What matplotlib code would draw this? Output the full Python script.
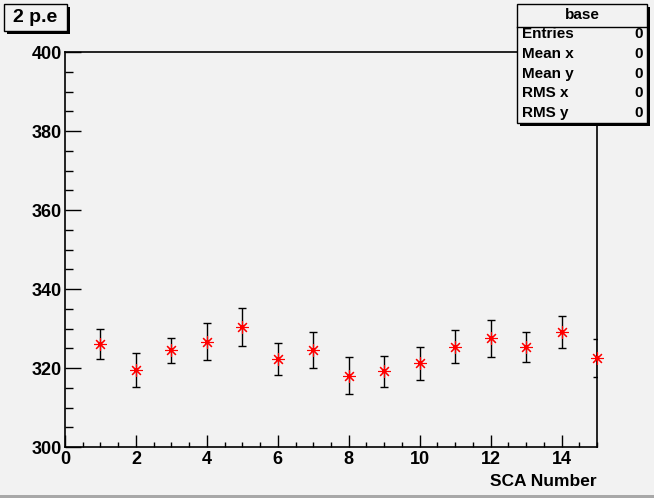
import matplotlib.pyplot as plt
from matplotlib.patches import Rectangle
from matplotlib.ticker import MultipleLocator

# mean p.e. per SCA with errors
sca = [1, 2, 3, 4, 5, 6, 7, 8, 9, 10, 11, 12, 13, 14, 15]
pe_mean = [326.2, 319.5, 324.5, 326.7, 330.3, 322.3, 324.5, 318.1,
           319.2, 321.2, 325.4, 327.5, 325.4, 329.1, 322.5]
pe_err = [3.8, 4.2, 3.2, 4.8, 4.8, 4.1, 4.5, 4.8,
          3.9, 4.2, 4.1, 4.7, 3.8, 4.0, 4.8]

stat_names = ['Entries', 'Mean x', 'Mean y', 'RMS x', 'RMS y']
stat_vals = ['0', '0', '0', '0', '0']

W, H = 654, 498
bg = '#f2f2f2'

plt.rcParams['font.family'] = ['Liberation Sans', 'DejaVu Sans']
plt.rcParams['font.weight'] = 'bold'


def px(x, y):
    return x / W, 1 - y / H


def root_box(x0, y0, x1, y1, shadow=3):
    # box with a drop shadow, pixel coords from top left
    sx, sy = px(x0 + shadow, y1 + shadow)
    fig.add_artist(Rectangle((sx, sy), (x1 - x0) / W, (y1 - y0) / H,
                             transform=fig.transFigure, facecolor='black',
                             edgecolor='none', zorder=10))
    bx, by = px(x0, y1)
    fig.add_artist(Rectangle((bx, by), (x1 - x0) / W, (y1 - y0) / H,
                             transform=fig.transFigure, facecolor=bg,
                             edgecolor='black', lw=1, zorder=11))


fig = plt.figure(figsize=(W / 100, H / 100), dpi=100, facecolor=bg)
ax = fig.add_axes([65 / W, 51 / H, 532 / W, 395 / H])
ax.set_facecolor(bg)

ax.errorbar(sca, pe_mean, yerr=pe_err, fmt='none', ecolor='black',
            elinewidth=1, capsize=3, capthick=1)
ax.plot(sca, pe_mean, ls='none', marker=(8, 2, 0), ms=9, mec='red',
        mfc='red', mew=0.8, clip_on=False, zorder=5)
ax.plot(sca, pe_mean, ls='none', marker='s', ms=2.5, mec='red',
        mfc='red', mew=0, clip_on=False, zorder=6)

ax.set_xlim(0, 15)
ax.set_ylim(300, 400)
ax.xaxis.set_major_locator(MultipleLocator(2))
ax.xaxis.set_minor_locator(MultipleLocator(0.5))
ax.yaxis.set_major_locator(MultipleLocator(20))
ax.yaxis.set_minor_locator(MultipleLocator(5))
ax.tick_params(axis='x', which='major', direction='in', length=8.5,
               width=1, labelsize=13, pad=3)
ax.tick_params(axis='x', which='minor', direction='in', length=3.5, width=1)
ax.tick_params(axis='y', which='major', direction='in', length=11.5,
               width=1, labelsize=13, pad=2)
ax.tick_params(axis='y', which='minor', direction='in', length=6, width=1)
for s in ax.spines.values():
    s.set_linewidth(1.2)
    s.set_color('black')

fig.text(*px(597, 481), 'SCA Number', ha='right', va='center', fontsize=12.5)

# title box
root_box(4, 4, 67, 31)
fig.text(*px(35, 17), '2 p.e', ha='center', va='center', fontsize=14,
         zorder=12)

# stats box
root_box(517, 4, 647, 123)
lx, ly = px(517, 27)
rx, _ = px(647, 27)
fig.add_artist(plt.Line2D([lx, rx], [ly, ly], transform=fig.transFigure,
                          color='black', lw=1, zorder=12))
fig.text(*px(582, 15), 'base', ha='center', va='center', fontsize=11,
         zorder=12)
for i in range(len(stat_names)):
    yy = 34.5 + i * 19.5
    fig.text(*px(522, yy), stat_names[i], ha='left', va='center',
             fontsize=11, zorder=12)
    fig.text(*px(643, yy), stat_vals[i], ha='right', va='center',
             fontsize=11, zorder=12)

# bottom edge of the canvas
fig.add_artist(Rectangle((0, 0), 1, 3 / H, transform=fig.transFigure,
                         facecolor='#a8a8a8', edgecolor='none'))

plt.savefig('out.png', dpi=100, facecolor=bg)
